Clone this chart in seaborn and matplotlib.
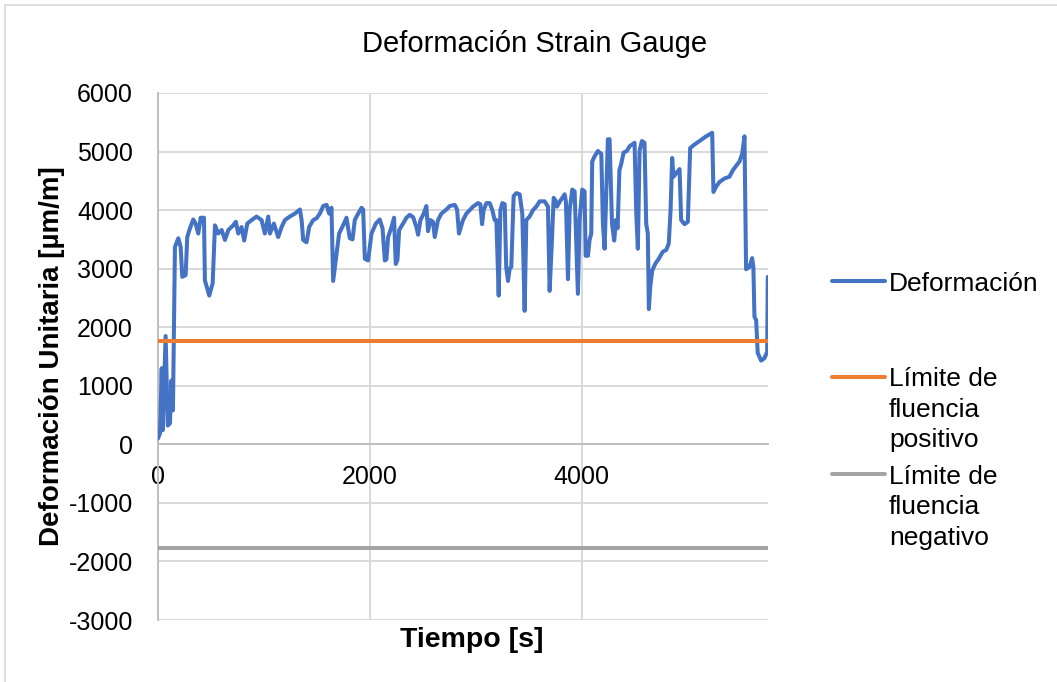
import matplotlib
matplotlib.use("Agg")
import matplotlib.pyplot as plt
from matplotlib.lines import Line2D
from matplotlib.patches import Rectangle
import seaborn as sns
import pandas as pd

# Strain gauge record: time [s] and unit strain [µm/m]
time_s = [
    0, 19, 35, 44, 72, 92, 113, 127, 141, 160,
    192, 214, 229, 261, 276, 302, 333, 355, 380, 403,
    434, 443, 484, 516, 538, 569, 601, 632, 664, 710,
    735, 758, 789, 814, 843, 884, 931, 978, 1009, 1041,
    1057, 1094, 1135, 1167, 1198, 1245, 1292, 1340, 1356, 1371,
    1403, 1427, 1465, 1497, 1528, 1560, 1592, 1616, 1638, 1654,
    1686, 1710, 1748, 1780, 1811, 1837, 1858, 1890, 1922, 1937,
    1953, 1984, 2016, 2057, 2094, 2120, 2142, 2157, 2173, 2205,
    2229, 2245, 2261, 2277, 2314, 2346, 2377, 2409, 2440, 2456,
    2478, 2509, 2534, 2550, 2572, 2597, 2613, 2644, 2676, 2723,
    2755, 2802, 2824, 2842, 2880, 2912, 2943, 2975, 3022, 3044,
    3060, 3075, 3101, 3132, 3157, 3179, 3195, 3217, 3233, 3252,
    3274, 3288, 3305, 3321, 3336, 3358, 3384, 3415, 3440, 3462,
    3478, 3509, 3541, 3572, 3604, 3651, 3682, 3698, 3717, 3736,
    3755, 3767, 3799, 3840, 3852, 3871, 3887, 3912, 3934, 3965,
    3981, 4006, 4028, 4038, 4060, 4075, 4091, 4100, 4123, 4154,
    4186, 4201, 4217, 4248, 4264, 4287, 4308, 4324, 4340, 4357,
    4374, 4396, 4427, 4453, 4500, 4516, 4531, 4547, 4569, 4594,
    4610, 4625, 4635, 4648, 4667, 4698, 4729, 4767, 4799, 4823,
    4840, 4855, 4868, 4893, 4925, 4940, 4972, 5003, 5025, 5066,
    5113, 5176, 5233, 5245, 5270, 5302, 5349, 5396, 5428, 5465,
    5491, 5516, 5538, 5553, 5585, 5610, 5622, 5632, 5648, 5663,
    5695, 5726, 5752, 5758,
]
strain_um_m = [
    100, 190, 1300, 240, 1850, 320, 360, 1090, 580, 3370,
    3520, 3370, 2860, 2890, 3540, 3690, 3840, 3770, 3600, 3870,
    3870, 2800, 2540, 2750, 3740, 3600, 3660, 3490, 3660, 3740,
    3800, 3600, 3710, 3480, 3770, 3830, 3890, 3830, 3600, 3890,
    3600, 3770, 3540, 3710, 3830, 3890, 3940, 4010, 3830, 3490,
    3450, 3710, 3830, 3860, 3940, 4070, 4090, 3940, 4040, 2790,
    3260, 3600, 3740, 3870, 3520, 3500, 3830, 3940, 4040, 4010,
    3170, 3140, 3600, 3770, 3840, 3690, 3140, 3160, 3540, 3710,
    3870, 3080, 3150, 3660, 3770, 3870, 3920, 3880, 3710, 3580,
    3830, 3940, 4070, 3640, 3830, 3800, 3540, 3830, 3940, 4010,
    4070, 4090, 4010, 3600, 3830, 3940, 4000, 4060, 4120, 4100,
    3760, 4000, 4120, 4120, 4000, 3830, 3830, 2540, 4000, 4120,
    4100, 3030, 2790, 3000, 3030, 4240, 4290, 4270, 3940, 2280,
    3830, 3890, 4000, 4060, 4150, 4150, 4060, 2620, 3370, 4210,
    4160, 4060, 4160, 4270, 4140, 2820, 4000, 4350, 4320, 2570,
    3830, 4350, 4320, 3220, 3220, 3490, 3600, 4830, 4920, 5010,
    4960, 3770, 3340, 5210, 5210, 3770, 3480, 3830, 3690, 4680,
    4790, 4980, 5010, 5090, 5150, 3940, 3340, 5010, 5180, 5150,
    3770, 3600, 2310, 2690, 2970, 3090, 3170, 3290, 3320, 3430,
    4000, 4890, 4570, 4630, 4700, 3830, 3760, 3800, 5060, 5120,
    5180, 5260, 5320, 4310, 4400, 4480, 4540, 4570, 4680, 4770,
    4830, 4960, 5260, 2990, 3030, 3180, 3030, 2180, 2120, 1560,
    1430, 1470, 1580, 2860,
]
yield_limit_pos = 1770
yield_limit_neg = -1770

x_ticks = [0, 2000, 4000]
y_ticks = [-3000, -2000, -1000, 0, 1000, 2000, 3000, 4000, 5000, 6000]
x_max = 5760

series_labels = [
    ["Deformación"],
    ["Límite de", "fluencia", "positivo"],
    ["Límite de", "fluencia", "negativo"],
]
series_colors = ["#4472C4", "#ED7D31", "#A5A5A5"]

sns.set_theme(style="white")
plt.rcParams["font.family"] = ["Liberation Sans", "DejaVu Sans"]

W, H = 1057, 682
fig = plt.figure(figsize=(W / 100, H / 100), dpi=100)


def fx(px):
    return px / W


def fy(py):
    return 1 - py / H


ax = fig.add_axes([fx(158), fy(620), fx(768) - fx(158), fy(93) - fy(620)])

strain_df = pd.DataFrame({"t": time_s, "strain": strain_um_m})
limits_df = pd.DataFrame({
    "t": [0, x_max],
    "pos": [yield_limit_pos, yield_limit_pos],
    "neg": [yield_limit_neg, yield_limit_neg],
})

lw = 2.9
sns.lineplot(data=strain_df, x="t", y="strain", ax=ax, color=series_colors[0],
             linewidth=lw, estimator=None, sort=False, legend=False, zorder=3,
             solid_joinstyle="round", solid_capstyle="round")
sns.lineplot(data=limits_df, x="t", y="pos", ax=ax, color=series_colors[1],
             linewidth=lw, estimator=None, legend=False, zorder=4)
sns.lineplot(data=limits_df, x="t", y="neg", ax=ax, color=series_colors[2],
             linewidth=lw, estimator=None, legend=False, zorder=5)

ax.set_xlim(0, x_max)
ax.set_ylim(-3000, 6000)
ax.set_xticks(x_ticks)
ax.set_yticks(y_ticks)
ax.set_xticklabels([str(v) for v in x_ticks])
ax.set_yticklabels([str(v) for v in y_ticks])

ax.grid(True, color="#D9D9D9", linewidth=1.4)
ax.set_axisbelow(True)
for side in ("top", "right"):
    ax.spines[side].set_visible(False)
ax.spines["left"].set_color("#BFBFBF")
ax.spines["left"].set_linewidth(1.4)
ax.spines["bottom"].set_position(("data", 0))
ax.spines["bottom"].set_color("#BFBFBF")
ax.spines["bottom"].set_linewidth(1.4)
ax.spines["left"].set_zorder(1)
ax.spines["bottom"].set_zorder(1)

ax.tick_params(axis="x", length=0, pad=15, labelsize=18, colors="black")
ax.tick_params(axis="y", length=0, pad=18, labelsize=18, colors="black")

ax.set_xlabel("Tiempo [s]", fontsize=20.5, fontweight="bold", color="black")
ax.set_ylabel("Deformación Unitaria [µm/m]", fontsize=20, fontweight="bold", color="black")
ax.xaxis.set_label_coords((472 - 158) / 610, -0.013)
ax.yaxis.set_label_coords(-0.152, 0.5)

fig.text(fx(535), fy(44), "Deformación Strain Gauge", ha="center", va="center",
         fontsize=21, color="black")

# Legend at the right of the plot area
legend_rows = [281, 377, 474]
line_gap = 30.5
for labels, color, ry in zip(series_labels, series_colors, legend_rows):
    fig.add_artist(Line2D([fx(832), fx(885)], [fy(ry), fy(ry)], color=color,
                          linewidth=lw, transform=fig.transFigure))
    for k, text in enumerate(labels):
        fig.text(fx(889), fy(ry + k * line_gap), text, ha="left", va="center_baseline",
                 fontsize=19, color="black")

# Chart area border
fig.add_artist(Rectangle((fx(5), -0.1), 1.2, fy(5) + 0.1, transform=fig.transFigure,
                         fill=False, edgecolor="#D9D9D9", linewidth=1.2))

fig.savefig("out.png", dpi=100)
